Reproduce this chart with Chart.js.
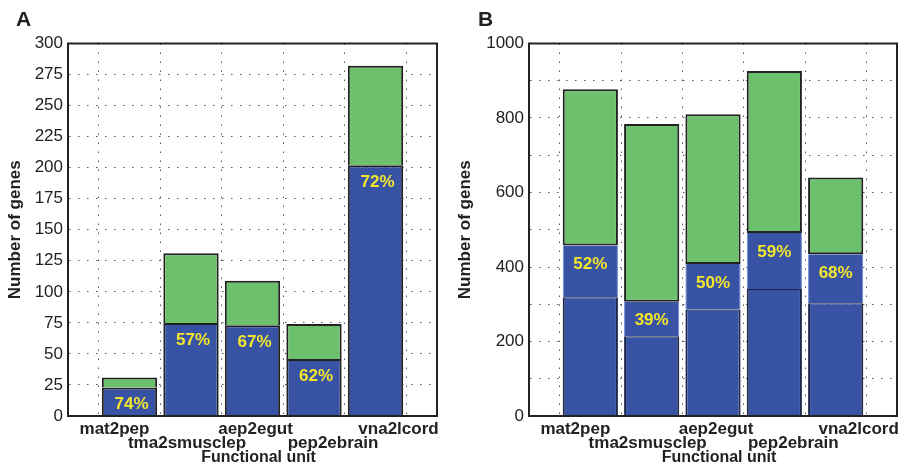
<!DOCTYPE html>
<html><head><meta charset="utf-8">
<script src="https://cdn.jsdelivr.net/npm/chart.js@4.4.1/dist/chart.umd.min.js"></script>
<style>
html,body{margin:0;padding:0;background:#fff;}
#wrap{position:relative;width:902px;height:468px;}
#cA{position:absolute;left:0;top:0;}
#cB{position:absolute;left:450px;top:0;}
</style></head><body>
<div id="wrap"><canvas id="cA" width="450" height="468"></canvas><canvas id="cB" width="452" height="468"></canvas></div>
<script>
// ---- data ----
const categories = ['mat2pep','tma2smusclep','aep2egut','pep2ebrain','vna2lcord'];
const aConserved = [23, 75, 73, 46, 202];
const aOther     = [8, 56, 36, 28, 80];
const aPercent   = ['74%','57%','67%','62%','72%'];
const bLower     = [319, 214, 285, 341, 303];
const bMiddle    = [139, 93, 123, 150, 131];
const bOther     = [419, 477, 402, 435, 206];
const bPercent   = ['52%','39%','50%','59%','68%'];
const aYTicks = {min: 0, max: 300, step: 25, labelEvery: 25};
const bYTicks = {min: 0, max: 1000, step: 100, labelEvery: 200};
const yTitle = 'Number of genes';
const xTitle = 'Functional unit';

// ---- style ----
const FONT = '"Liberation Sans", Arial, Helvetica, sans-serif';
const BLUE = '#3853a4', GREEN = '#6dc06c', YELLOW = '#f4e62c', INK = '#222';
const LABEL_SHIFT = [-15, -4, 3, 19, 23];
Chart.defaults.font.family = FONT;
Chart.defaults.color = INK;

const pad = arr => [null, ...arr, null];
const labels = ['', ...categories, ''];

function makeChart(canvas, cfg) {
  const plugins = [{
    id: 'decor',
    afterDatasetsDraw(chart) {
      const ctx = chart.ctx, ca = chart.chartArea, xs = chart.scales.x;
      ctx.save();
      // percent labels
      const meta = chart.getDatasetMeta(cfg.labelDataset);
      ctx.font = 'bold 17px ' + FONT;
      ctx.fillStyle = YELLOW;
      ctx.textAlign = 'center';
      ctx.textBaseline = 'middle';
      cfg.percent.forEach((t, i) => {
        const el = meta.data[i + 1];
        ctx.fillText(t, el.x + cfg.pdx, el.y + cfg.pdy);
      });
      // box
      ctx.strokeStyle = INK; ctx.lineWidth = 2;
      ctx.strokeRect(ca.left, ca.top, ca.right - ca.left, ca.bottom - ca.top);
      // category labels
      ctx.fillStyle = INK;
      ctx.textBaseline = 'alphabetic';
      ctx.font = 'bold 17px ' + FONT;
      categories.forEach((c, i) => {
        const x = xs.getPixelForValue(i + 1) + LABEL_SHIFT[i];
        ctx.fillText(c, x, i % 2 === 0 ? 434 : 447.5);
      });
      ctx.font = 'bold 16px ' + FONT;
      ctx.fillText(xTitle, (ca.left + ca.right) / 2 + 6, 461.5);
      // panel letter
      ctx.textAlign = 'left';
      ctx.font = 'bold 21px ' + FONT;
      ctx.fillText(cfg.letter, cfg.letterX, 26);
      ctx.restore();
    }
  }];
  return new Chart(canvas, {
    type: 'bar',
    data: {labels, datasets: cfg.datasets},
    options: {
      responsive: false, animation: false, devicePixelRatio: 1,
      layout: {padding: {left: 0, right: cfg.padRight, top: 43.5, bottom: 0}},
      plugins: {legend: {display: false}, tooltip: {enabled: false}},
      datasets: {bar: {categoryPercentage: 1, barPercentage: 0.9, inflateAmount: 0}},
      scales: {
        x: {
          type: 'category', offset: false, stacked: true,
          afterFit: s => { s.height = 52; },
          grid: {color: '#555', lineWidth: 1, drawTicks: false},
          border: {display: true, color: INK, width: 2, dash: [1.5, 7.5]},
          ticks: {autoSkip: false, maxRotation: 0, callback: () => ''}
        },
        y: {
          stacked: true, min: cfg.yt.min, max: cfg.yt.max,
          afterFit: s => { s.width = cfg.yWidth; },
          grid: {color: '#555', lineWidth: 1, drawTicks: false},
          border: {display: true, color: INK, width: 2, dash: [1.5, 7.5]},
          ticks: {stepSize: cfg.yt.step, padding: 5, color: INK, font: {size: 17},
                  callback: v => (v % cfg.yt.labelEvery === 0 ? String(v) : '')},
          title: {display: true, text: yTitle, color: INK,
                  font: {size: 17, weight: 'bold'}, padding: {top: 5, bottom: 0}}
        }
      }
    },
    plugins
  });
}

makeChart(document.getElementById('cA'), {
  letter: 'A', letterX: 16, padRight: 13, yWidth: 68, yt: aYTicks,
  percent: aPercent, labelDataset: 0, pdx: 2, pdy: 17,
  datasets: [
    {data: pad(aConserved), backgroundColor: BLUE, borderColor: INK, borderWidth: 2},
    {data: pad(aOther), backgroundColor: GREEN, borderColor: INK, borderWidth: 2}
  ]
});

makeChart(document.getElementById('cB'), {
  letter: 'B', letterX: 28, padRight: 5, yWidth: 79, yt: bYTicks,
  percent: bPercent, labelDataset: 1, pdx: 0, pdy: 19,
  datasets: [
    {data: pad(bLower), backgroundColor: BLUE, borderColor: '#1e2647',
     borderWidth: {top: 1, left: 2, right: 2, bottom: 0}},
    {data: pad(bMiddle), backgroundColor: BLUE, borderColor: '#6f87cf',
     borderWidth: {top: 0, left: 1, right: 1, bottom: 0}, borderSkipped: false},
    {data: pad(bOther), backgroundColor: GREEN, borderColor: INK, borderWidth: 2, borderSkipped: false}
  ]
});
</script>
</body></html>
